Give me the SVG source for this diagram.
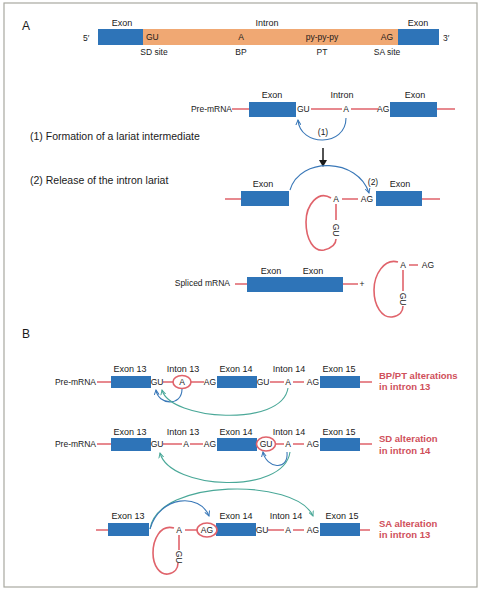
<svg xmlns="http://www.w3.org/2000/svg" width="481" height="591" viewBox="0 0 481 591">
<style>
text{font-family:"Liberation Sans",Arial,sans-serif;fill:#1a1a1a}
.l{font-size:9px;text-anchor:middle}
.s{font-size:8.5px}
.m{font-size:8.5px;text-anchor:middle}
.t{font-size:10.5px}
.h{font-size:12px}
.r{font-size:9.5px;font-weight:bold;fill:#d0505a}
.ex{fill:#2e74b8}
.rl{stroke:#e0636b;stroke-width:1.6;fill:none}
.ba{stroke:#3a78b8;stroke-width:1.1;fill:none;marker-end:url(#ab)}
.ta{stroke:#4aa898;stroke-width:1.1;fill:none;marker-end:url(#at)}
</style>
<defs>
<marker id="ab" markerWidth="6" markerHeight="6" refX="5" refY="3" orient="auto" markerUnits="userSpaceOnUse"><path d="M0,0.5 L5,3 L0,5.5" fill="none" stroke="#3a78b8" stroke-width="1"/></marker>
<marker id="at" markerWidth="6" markerHeight="6" refX="5" refY="3" orient="auto" markerUnits="userSpaceOnUse"><path d="M0,0.5 L5,3 L0,5.5" fill="none" stroke="#4aa898" stroke-width="1"/></marker>
<marker id="ak" markerWidth="8" markerHeight="8" refX="6" refY="4" orient="auto" markerUnits="userSpaceOnUse"><path d="M0,0 L7,4 L0,8 Z" fill="#1a1a1a"/></marker>
</defs>
<rect x="4" y="3" width="473" height="584" fill="#fff" stroke="#a8a8a0" stroke-width="1.2"/>

<g id="panelA-label"><text class="h" x="22" y="30">A</text></g>

<g id="gene-structure">
<rect x="98" y="29" width="45" height="16" class="ex"/>
<rect x="143" y="29" width="255" height="16" fill="#f0a873"/>
<rect x="398" y="29" width="41" height="16" class="ex"/>
<text class="s" x="83" y="41">5′</text>
<text class="s" x="443" y="41">3′</text>
<text class="l" x="122" y="26">Exon</text>
<text class="l" x="267" y="26">Intron</text>
<text class="l" x="418" y="26">Exon</text>
<text class="s" x="146" y="40">GU</text>
<text class="m" x="241" y="40">A</text>
<text class="m" x="322" y="40">py-py-py</text>
<text class="m" x="387" y="40">AG</text>
<text class="m" x="154" y="55">SD site</text>
<text class="m" x="241" y="55">BP</text>
<text class="m" x="322" y="55">PT</text>
<text class="m" x="387" y="55">SA site</text>
</g>

<g id="steps-text">
<text class="t" x="30" y="140">(1) Formation of a lariat intermediate</text>
<text class="t" x="30" y="184">(2) Release of the intron lariat</text>
</g>

<g id="premrna-A">
<text class="s" x="232" y="112" text-anchor="end">Pre-mRNA</text>
<path class="rl" d="M232,109 H249 M311,109 H342 M351,109 H378 M437,109 H455"/>
<rect x="249" y="102" width="47" height="15" class="ex"/>
<rect x="390" y="102" width="47" height="15" class="ex"/>
<text class="s" x="297" y="112">GU</text>
<text class="m" x="346" y="112">A</text>
<text class="s" x="377" y="112">AG</text>
<text class="l" x="272" y="98">Exon</text>
<text class="l" x="342" y="98">Intron</text>
<text class="l" x="415" y="98">Exon</text>
</g>

<g id="lariat-intermediate">
<path class="rl" d="M225,199 H241 M342,199 H358 M422,199 H440 M336,204 V220"/>
<rect x="241" y="191" width="48" height="15" class="ex"/>
<rect x="376" y="191" width="46" height="15" class="ex"/>
<text class="l" x="263" y="187">Exon</text>
<text class="l" x="400" y="187">Exon</text>
<text class="m" x="336" y="202">A</text>
<text class="m" x="367" y="202">AG</text>
<text class="m" x="336" y="230" transform="rotate(90 336 230)" dy="3">GU</text>
<path class="rl" d="M331,198 C318,190 306,205 306,222 C306,240 314,252 324,250 C332,248 336,244 336,239"/>
</g>

<g id="spliced">
<text class="s" x="230" y="286" text-anchor="end">Spliced mRNA</text>
<path class="rl" d="M235,284 H247 M343,284 H358"/>
<rect x="247" y="277" width="96" height="15" class="ex"/>
<text class="l" x="271" y="274">Exon</text>
<text class="l" x="313" y="274">Exon</text>
<text class="m" x="362" y="287">+</text>
</g>

<g id="released-lariat">
<path class="rl" d="M409,265 H418 M403,270 V291"/>
<text class="m" x="403" y="268">A</text>
<text class="m" x="428" y="268">AG</text>
<text class="m" x="403" y="299" transform="rotate(90 403 299)" dy="3">GU</text>
<path class="rl" d="M398,262 C384,258 374,275 374,290 C374,306 382,318 392,317 C400,316 403,311 403,306"/>
</g>

<g id="panelB-label"><text class="h" x="22" y="338">B</text></g>

<g id="row1">
<text class="s" x="96" y="385" text-anchor="end">Pre-mRNA</text>
<path class="rl" d="M97,382 H111 M163,382 H173 M191,382 H204 M270,382 H284 M293,382 H304 M360,382 H372"/>
<rect x="111" y="376" width="40" height="12" class="ex"/>
<rect x="217" y="376" width="40" height="12" class="ex"/>
<rect x="320" y="376" width="40" height="12" class="ex"/>
<text class="m" x="157" y="385">GU</text>
<ellipse cx="182" cy="382" rx="9" ry="6.5" class="rl"/>
<text class="m" x="182" y="385">A</text>
<text class="m" x="210" y="385">AG</text>
<text class="m" x="263" y="385">GU</text>
<text class="m" x="288" y="385">A</text>
<text class="m" x="313" y="385">AG</text>
<text class="l" x="130" y="372">Exon 13</text>
<text class="l" x="183" y="372">Inton 13</text>
<text class="l" x="236" y="372">Exon 14</text>
<text class="l" x="289" y="372">Inton 14</text>
<text class="l" x="339" y="372">Exon 15</text>
<text class="r" x="379" y="379">BP/PT alterations</text>
<text class="r" x="379" y="390">in intron 13</text>
</g>

<g id="row2">
<text class="s" x="96" y="447" text-anchor="end">Pre-mRNA</text>
<path class="rl" d="M97,444 H111 M163,444 H182 M190,444 H203 M276,444 H284 M293,444 H304 M360,444 H372"/>
<rect x="111" y="438" width="40" height="13" class="ex"/>
<rect x="217" y="438" width="40" height="13" class="ex"/>
<rect x="320" y="438" width="40" height="13" class="ex"/>
<text class="m" x="157" y="447">GU</text>
<text class="m" x="186" y="447">A</text>
<text class="m" x="210" y="447">AG</text>
<ellipse cx="266" cy="444" rx="9.5" ry="7" class="rl"/>
<text class="m" x="266" y="447">GU</text>
<text class="m" x="288" y="447">A</text>
<text class="m" x="313" y="447">AG</text>
<text class="l" x="130" y="435">Exon 13</text>
<text class="l" x="183" y="435">Inton 13</text>
<text class="l" x="236" y="435">Exon 14</text>
<text class="l" x="289" y="435">Inton 14</text>
<text class="l" x="339" y="435">Exon 15</text>
<text class="r" x="379" y="442">SD alteration</text>
<text class="r" x="379" y="454">in intron 14</text>
</g>

<g id="row3">
<path class="rl" d="M96,530 H108 M185,530 H198 M268,530 H284 M293,530 H304 M360,530 H370 M179,535 V550"/>
<rect x="108" y="523" width="41" height="13" class="ex"/>
<rect x="216" y="523" width="40" height="13" class="ex"/>
<rect x="320" y="523" width="40" height="13" class="ex"/>
<text class="m" x="179" y="533">A</text>
<ellipse cx="207" cy="530" rx="10" ry="7" class="rl"/>
<text class="m" x="207" y="533">AG</text>
<text class="m" x="262" y="533">GU</text>
<text class="m" x="288" y="533">A</text>
<text class="m" x="313" y="533">AG</text>
<text class="m" x="179" y="557" transform="rotate(90 179 557)" dy="3">GU</text>
<path class="rl" d="M174,528 C160,524 153,540 153,553 C153,566 160,575 168,574 C175,573 178,568 178,563"/>
<text class="l" x="128" y="519">Exon 13</text>
<text class="l" x="236" y="519">Exon 14</text>
<text class="l" x="286" y="519">Inton 14</text>
<text class="l" x="342" y="519">Exon 15</text>
<text class="r" x="379" y="527">SA alteration</text>
<text class="r" x="379" y="538">in intron 13</text>
</g>

<g id="connectors">
<path class="ba" d="M346,118 C346,147 300,147 298,120"/>
<text class="m" x="323" y="135">(1)</text>
<path d="M323,148 V166" stroke="#1a1a1a" stroke-width="1.5" marker-end="url(#ak)"/>
<path class="ba" d="M290,190 C300,156 358,158 369,193"/>
<text class="m" x="373" y="185">(2)</text>
<path class="ba" d="M182,389 C182,407 158,405 156,390"/>
<path class="ta" d="M288,388 C282,428 170,420 162,390"/>
<path class="ba" d="M287,452 C289,472 266,468 263,452"/>
<path class="ta" d="M290,452 C284,495 170,490 160,453"/>
<path class="ta" d="M150,529 C158,478 296,478 313,516"/>
<path class="ba" d="M150,529 C160,495 200,493 209,516"/>
</g>
</svg>
